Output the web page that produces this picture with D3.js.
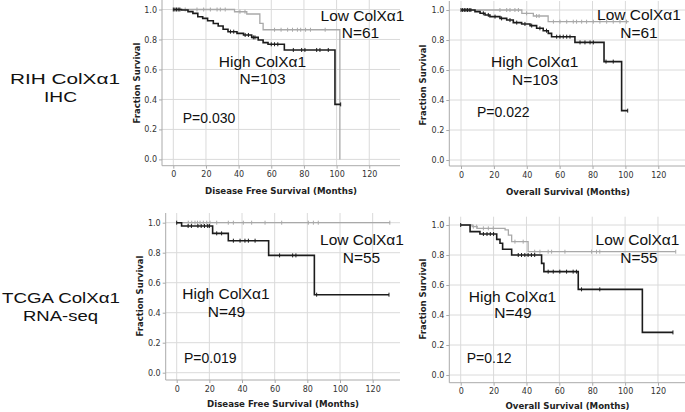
<!DOCTYPE html>
<html><head><meta charset="utf-8">
<script src="https://cdn.jsdelivr.net/npm/d3@7"></script>
<style>body{margin:0;background:#fff}</style>
</head><body>
<svg id="c" width="685" height="412"></svg>
<script>
// ---------- data ----------
const monthTicks = [0, 20, 40, 60, 80, 100, 120];
const survTicks = [0.0, 0.2, 0.4, 0.6, 0.8, 1.0];
const rowLabels = [["RIH ColXα1", "IHC"], ["TCGA ColXα1", "RNA-seq"]];
const xTitles = ["Disease Free Survival (Months)", "Overall Survival (Months)", "Disease Free Survival (Months)", "Overall Survival (Months)"];
const yTitle = "Fraction Survival";
const highLabels = ["High ColXα1", "High ColXα1", "High ColXα1", "High ColXα1"];
const lowLabels = ["Low ColXα1", "Low ColXα1", "Low ColXα1", "Low ColXα1"];
const highN = ["N=103", "N=103", "N=49", "N=49"];
const lowN = ["N=61", "N=61", "N=55", "N=55"];
const pValues = ["P=0.030", "P=0.022", "P=0.019", "P=0.12"];

// steps: [month, survival after drop]; last entry gives the end of the curve
const rihDfsHigh = [[0,1],[5,0.997],[9,0.986],[12,0.974],[15,0.952],[18,0.941],[21,0.925],[24.5,0.907],[27.5,0.89],[30.5,0.868],[33.5,0.852],[39,0.841],[43,0.83],[48,0.814],[52,0.797],[55,0.779],[58,0.768],[68,0.73],[99,0.367],[102.5,0.367]];
const rihDfsHighCens = [0,1,2,3,4,35,37,44,46,49,50,60,62,64,73.5,78.6,80.6,87.8,89.8,94.9,102.5];
const rihDfsLow = [[0,1],[37.5,0.985],[45,0.97],[53,0.907],[55,0.865],[102,0]];
const rihDfsLowCens = [7.3,14.5,18.6,22.7,26.8,28.8,31.8,40.8,43.9,62,66,70,73,76,78,81,84,93];

const rihOsHigh = [[0,1],[8.5,0.989],[11.6,0.978],[14.6,0.967],[17.6,0.956],[23.7,0.944],[27.8,0.933],[31.8,0.916],[36.9,0.907],[42,0.896],[46,0.878],[50,0.862],[53.1,0.844],[55.1,0.822],[69.3,0.784],[87,0.656],[97.7,0.329],[101.4,0.329]];
const rihOsHighCens = [0,1,2,3,4,5,6,13.6,16.6,20.7,24.7,29.8,33.9,38.9,43,48,52,58.2,60.2,62.2,64.3,66.3,72.4,75.4,78.5,80.5,88.2,92.6,101.4];
const rihOsLow = [[0,1],[37,0.978],[44,0.96],[53,0.922],[102,0.922]];
const rihOsLowCens = [23.7,27.8,29.8,32.8,34.9,39.9,46,47.5,56.2,60.2,64.3,68.3,70.3,73.4,76.4,80.5,84.5,88.6,92.6,96.7,100.7];

const tcgaDfsHigh = [[0,1],[3,0.978],[22,0.929],[31.6,0.88],[56.3,0.782],[84.3,0.52],[130,0.52]];
const tcgaDfsHighCens = [0,7,9,13,15,17,19,20,24.5,27.5,34.7,38.8,41.8,43.9,48,63,71,73,85.7,130];
const tcgaDfsLow = [[0,1],[130.5,1]];
const tcgaDfsLowCens = [7.1,9.2,11.2,12.7,14.3,16.3,18.4,20.4,24.5,31.6,34.7,40.8,45.9,54.1,64.3,80.6,83.7,86.7,130.5];

const tcgaOsHigh = [[0,1],[5.7,0.956],[11.7,0.94],[21.9,0.904],[23.9,0.878],[25.5,0.838],[31,0.8],[49.2,0.744],[50.6,0.689],[71.5,0.571],[110.5,0.284],[129.1,0.284]];
const tcgaOsHighCens = [0,13.8,16,18,20,35,37,39,41,43,45,53.2,56.3,60.3,64.4,68.4,70.4,73.5,84.6,129.1];
const tcgaOsLow = [[0,1],[7,0.989],[10,0.978],[27,0.967],[29,0.933],[31,0.889],[41,0.822],[130.8,0.822]];
const tcgaOsLowCens = [7.7,9.7,13.8,16.8,19.8,33,38,45,48.2,53.2,55.3,63.4,79.6,82.6,84.6,130.8];

// ---------- layout ----------
const panels = [
  {x0:173.3, kx:1.633, yTop:9.5,  yBot:159.4, left:162,   right:400, top:0,     bottom:165.7, yT:[136,83],  xT:[281,193.5],
   high:rihDfsHigh, highC:rihDfsHighCens, low:rihDfsLow, lowC:rihDfsLowCens,
   lowPos:[362.5,20.5], lowNPos:[360.5,38], highPos:[262.5,66.5], highNPos:[262.5,84], pPos:[182.7,123]},
  {x0:461, kx:1.644, yTop:10, yBot:160, left:449.3, right:685, top:1, bottom:166, yT:[422.5,85], xT:[568,195],
   high:rihOsHigh, highC:rihOsHighCens, low:rihOsLow, lowC:rihOsLowCens,
   lowPos:[639,20], lowNPos:[639,37.5], highPos:[534.7,66.5], highNPos:[535,85], pPos:[477,117.3]},
  {x0:176.7, kx:1.633, yTop:222.7, yBot:372.7, left:165.7, right:400, top:213, bottom:380, yT:[139,296], xT:[283,406.7],
   high:tcgaDfsHigh, highC:tcgaDfsHighCens, low:tcgaDfsLow, lowC:tcgaDfsLowCens,
   lowPos:[362,245], lowNPos:[361.5,262.7], highPos:[226,299.3], highNPos:[226.5,316.7], pPos:[184,363.3]},
  {x0:460.7, kx:1.644, yTop:225, yBot:375, left:449.3, right:685, top:216.7, bottom:382.7, yT:[422.5,299], xT:[567.5,409.3],
   high:tcgaOsHigh, highC:tcgaOsHighCens, low:tcgaOsLow, lowC:tcgaOsLowCens,
   lowPos:[637.5,245], lowNPos:[639,262.7], highPos:[512.5,301.7], highNPos:[513,318.3], pPos:[466.7,363.3]}
];

const svg = d3.select("#c");
const ann = "'Liberation Sans', Arial, sans-serif";
const axf = "'DejaVu Sans', Verdana, sans-serif";

function survAt(steps, t) {
  let s = 1;
  for (const [m, v] of steps) { if (m <= t + 1e-9) s = v; }
  return s;
}

panels.forEach((p, i) => {
  const g = svg.append("g");
  const x = d3.scaleLinear().domain([0, 120]).range([p.x0, p.x0 + 120 * p.kx]);
  const y = d3.scaleLinear().domain([0, 1]).range([p.yBot, p.yTop]);

  // grid
  g.selectAll(".hg").data(survTicks).join("line")
    .attr("x1", p.left).attr("x2", p.right)
    .attr("y1", d => y(d)).attr("y2", d => y(d))
    .attr("stroke", "#dadada").attr("stroke-width", 1);
  g.selectAll(".vg").data(monthTicks).join("line")
    .attr("x1", d => x(d)).attr("x2", d => x(d))
    .attr("y1", p.top).attr("y2", p.bottom)
    .attr("stroke", "#dadada").attr("stroke-width", 1);

  // axes
  const xa = g.append("g").attr("transform", `translate(0,${p.bottom})`)
    .call(d3.axisBottom(x).tickValues(monthTicks).tickSize(3).tickPadding(3).tickFormat(d3.format("d")));
  const ya = g.append("g").attr("transform", `translate(${p.left},0)`)
    .call(d3.axisLeft(y).tickValues(survTicks).tickSize(3).tickPadding(2).tickFormat(d3.format(".1f")));
  [xa, ya].forEach(a => {
    a.select(".domain").remove();
    a.selectAll("line").attr("stroke", "#aaa");
    a.selectAll("text").attr("font-family", axf).attr("font-size", 8).attr("fill", "#333");
  });
  g.append("line").attr("x1", p.left).attr("x2", p.left).attr("y1", p.top).attr("y2", p.bottom).attr("stroke", "#aaa");
  g.append("line").attr("x1", p.left).attr("x2", p.right).attr("y1", p.bottom).attr("y2", p.bottom).attr("stroke", "#aaa");

  // titles
  g.append("text").attr("x", p.xT[0]).attr("y", p.xT[1]).attr("text-anchor", "middle")
    .attr("font-family", axf).attr("font-weight", "bold").attr("font-size", 9.5).attr("fill", "#222")
    .attr("textLength", i % 2 === 0 ? 152 : 124).attr("lengthAdjust", "spacingAndGlyphs")
    .text(xTitles[i]);
  g.append("text").attr("transform", `translate(${p.yT[0] + 3.5},${p.yT[1]}) rotate(-90)`).attr("text-anchor", "middle")
    .attr("font-family", axf).attr("font-weight", "bold").attr("font-size", 9.5).attr("fill", "#222")
    .attr("textLength", 81).attr("lengthAdjust", "spacingAndGlyphs")
    .text(yTitle);

  // curves
  const line = d3.line().x(d => x(d[0])).y(d => y(d[1])).curve(d3.curveStepAfter);
  const series = [
    {steps: p.low, cens: p.lowC, color: "#a9a9a9", w: 1.3},
    {steps: p.high, cens: p.highC, color: "#1c1c1c", w: 1.6}
  ];
  series.forEach(s => {
    g.append("path").attr("d", line(s.steps)).attr("fill", "none")
      .attr("stroke", s.color).attr("stroke-width", s.w);
    g.selectAll(null).data(s.cens).join("line")
      .attr("x1", d => x(d)).attr("x2", d => x(d))
      .attr("y1", d => y(survAt(s.steps, d)) - 2).attr("y2", d => y(survAt(s.steps, d)) + 2)
      .attr("stroke", s.color).attr("stroke-width", 1);
  });

  // annotations
  const t = (pos, txt, size, anchor) => g.append("text").attr("x", pos[0]).attr("y", pos[1])
    .attr("text-anchor", anchor).attr("font-family", ann).attr("font-size", size).attr("fill", "#111").text(txt);
  t(p.lowPos, lowLabels[i], 15.5, "middle");
  t(p.lowNPos, lowN[i], 15.5, "middle");
  t(p.highPos, highLabels[i], 15.5, "middle");
  t(p.highNPos, highN[i], 15.5, "middle");
  t(p.pPos, pValues[i], 14, "start");
});

// row labels
const rowPos = [[[65, 84], [60.5, 102]], [[61, 302.5], [60.5, 320.5]]];
const rowLen = [[110, 33], [118, 75]];
rowLabels.forEach((lines, r) => {
  lines.forEach((txt, k) => {
    svg.append("text").attr("x", rowPos[r][k][0]).attr("y", rowPos[r][k][1])
      .attr("text-anchor", "middle").attr("font-family", ann).attr("font-size", 15.5).attr("fill", "#111")
      .attr("textLength", rowLen[r][k]).attr("lengthAdjust", "spacingAndGlyphs")
      .text(txt);
  });
});
</script>
</body></html>
